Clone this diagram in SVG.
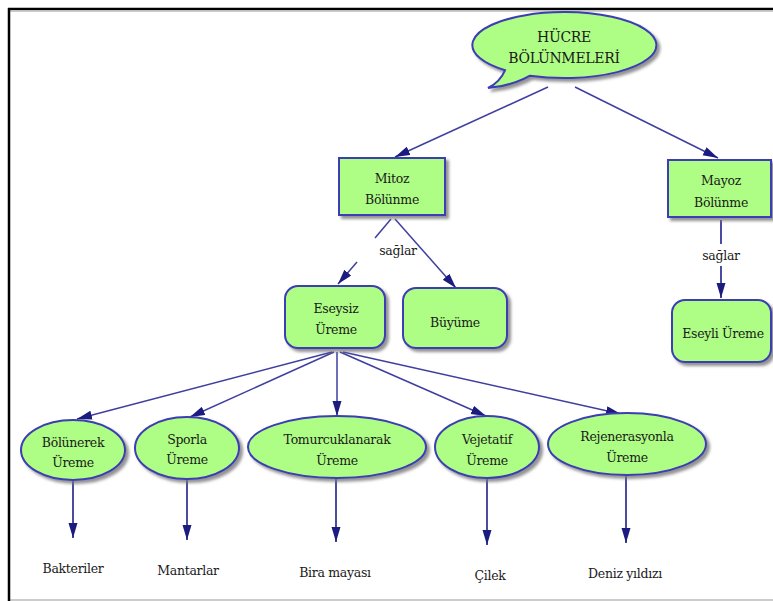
<svg xmlns="http://www.w3.org/2000/svg" width="773" height="601" viewBox="0 0 773 601">
<style>
.node{fill:#aefd84;stroke:#3c3cb4;stroke-width:2;filter:url(#sh)}
text{font-family:'DejaVu Serif','Liberation Serif',serif;font-size:12.5px;fill:#1a1a1a;text-anchor:middle;letter-spacing:-0.3px}
.big{font-size:14px}
.c{stroke:#3f3f9f;stroke-width:1.5;fill:none}
.d{stroke:#1f1f88;stroke-width:1.6;fill:none}
</style>
<defs>
<filter id="sh" x="-20%" y="-20%" width="150%" height="150%">
<feDropShadow dx="3" dy="3" stdDeviation="1.5" flood-color="#777" flood-opacity="0.8"/>
</filter>
<marker id="ah" markerUnits="userSpaceOnUse" markerWidth="16" markerHeight="10" refX="15" refY="4.5" orient="auto">
<path d="M0,0 L15,4.5 L0,9 z" fill="#1c1c80"/>
</marker>
</defs>
<rect width="773" height="601" fill="#fff"/>
<g id="frame">
<line x1="10" y1="11.5" x2="773" y2="11.5" stroke="#ccc" stroke-width="1"/>
<line x1="10" y1="600" x2="773" y2="600" stroke="#bbb" stroke-width="1.5"/>
<line x1="8" y1="9" x2="773" y2="9" stroke="#000" stroke-width="2.5"/>
<line x1="9" y1="8" x2="9" y2="601" stroke="#000" stroke-width="2.5"/>
</g>
<g id="connectors">
<line class="c" x1="548" y1="87" x2="395" y2="157" marker-end="url(#ah)"/>
<line class="c" x1="575" y1="87" x2="718" y2="158" marker-end="url(#ah)"/>
<line class="c" x1="391" y1="219" x2="375" y2="238"/>
<line class="c" x1="357" y1="262" x2="338" y2="284" marker-end="url(#ah)"/>
<line class="c" x1="395" y1="219" x2="456" y2="288" marker-end="url(#ah)"/>
<line class="d" x1="721" y1="220" x2="721" y2="244"/>
<line class="d" x1="721" y1="266" x2="721" y2="298" marker-end="url(#ah)"/>
<line class="c" x1="332" y1="352" x2="77" y2="419" marker-end="url(#ah)"/>
<line class="c" x1="334" y1="352" x2="190" y2="417" marker-end="url(#ah)"/>
<line class="c" x1="337" y1="352" x2="337" y2="416" marker-end="url(#ah)"/>
<line class="c" x1="340" y1="352" x2="486" y2="416" marker-end="url(#ah)"/>
<line class="c" x1="343" y1="352" x2="621" y2="414" marker-end="url(#ah)"/>
<line class="d" x1="73" y1="481" x2="73" y2="538" marker-end="url(#ah)"/>
<line class="d" x1="187" y1="479" x2="187" y2="540" marker-end="url(#ah)"/>
<line class="d" x1="336" y1="478" x2="336" y2="542" marker-end="url(#ah)"/>
<line class="d" x1="487" y1="478" x2="487" y2="545" marker-end="url(#ah)"/>
<line class="d" x1="626" y1="476" x2="626" y2="543" marker-end="url(#ah)"/>
<text x="398" y="255">sağlar</text>
<text x="721" y="260">sağlar</text>
</g>
<g id="hucre">
<path class="node" d="M530,75.7 A92,33 0 1 0 505,70.3 Q500,82 488,88 Q512,86 530,75.7 Z"/>
<text class="big" x="564" y="42">HÜCRE</text>
<text class="big" x="564" y="63">BÖLÜNMELERİ</text>
</g>
<g id="mitoz">
<rect class="node" x="339" y="158" width="106" height="57"/>
<text x="392" y="183">Mitoz</text>
<text x="392" y="204">Bölünme</text>
</g>
<g id="mayoz">
<rect class="node" x="668" y="160" width="103" height="57"/>
<text x="721" y="185">Mayoz</text>
<text x="721" y="207">Bölünme</text>
</g>
<g id="eseysiz">
<rect class="node" x="285" y="286" width="100" height="62" rx="13"/>
<text x="336" y="313">Eseysiz</text>
<text x="336" y="334">Üreme</text>
</g>
<g id="buyume">
<rect class="node" x="403" y="288" width="104" height="60" rx="13"/>
<text x="455" y="327">Büyüme</text>
</g>
<g id="eseyli">
<rect class="node" x="672" y="300" width="99" height="62" rx="13"/>
<text x="723" y="338">Eseyli Üreme</text>
</g>
<g id="bolunerek">
<ellipse class="node" cx="73" cy="450" rx="52" ry="30"/>
<text x="73" y="447">Bölünerek</text>
<text x="73" y="467">Üreme</text>
</g>
<g id="sporla">
<ellipse class="node" cx="187" cy="448" rx="52" ry="31"/>
<text x="187" y="444">Sporla</text>
<text x="187" y="464">Üreme</text>
</g>
<g id="tomurcuklanarak">
<ellipse class="node" cx="337" cy="447" rx="89" ry="31"/>
<text x="337" y="444">Tomurcuklanarak</text>
<text x="337" y="465">Üreme</text>
</g>
<g id="vejetatif">
<ellipse class="node" cx="487" cy="447" rx="52" ry="31"/>
<text x="487" y="444">Vejetatif</text>
<text x="487" y="465">Üreme</text>
</g>
<g id="rejenerasyonla">
<ellipse class="node" cx="627" cy="444" rx="79" ry="31"/>
<text x="627" y="441">Rejenerasyonla</text>
<text x="627" y="462">Üreme</text>
</g>
<g id="leaves">
<text x="73" y="573">Bakteriler</text>
<text x="188" y="575">Mantarlar</text>
<text x="335" y="577">Bira mayası</text>
<text x="490" y="580">Çilek</text>
<text x="625" y="578">Deniz yıldızı</text>
</g>
</svg>
